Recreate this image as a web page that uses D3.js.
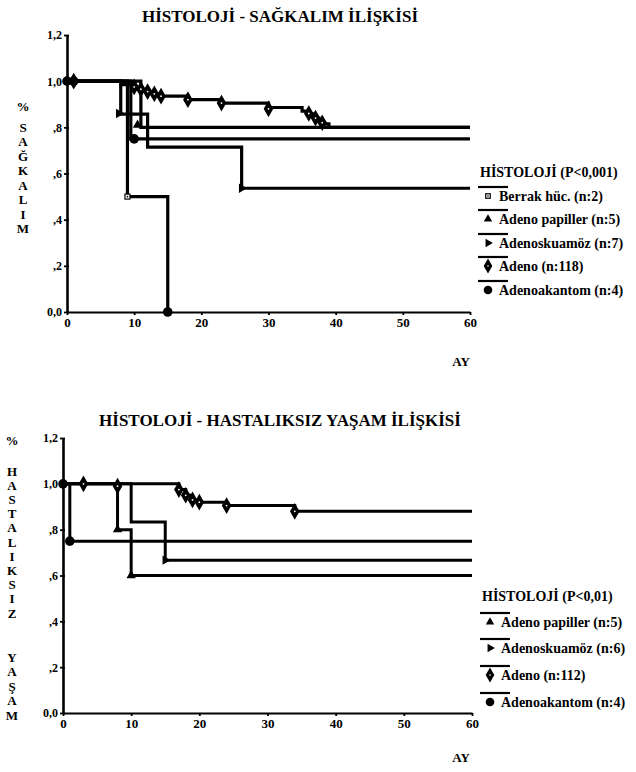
<!DOCTYPE html>
<html>
<head>
<meta charset="utf-8">
<script src="https://cdnjs.cloudflare.com/ajax/libs/d3/7.8.5/d3.min.js"></script>
<style>
body { margin: 0; background: #fff; }
</style>
</head>
<body>
<div id="plot"></div>
<script>
// tick values and labels (same for both charts)
var xTicks = [0, 10, 20, 30, 40, 50, 60];
var yTicks = [0, 0.2, 0.4, 0.6, 0.8, 1.0, 1.2];
var yTickLabels = ["0,0", ",2", ",4", ",6", ",8", "1,0", "1,2"];

// top chart - survival, step times (months) / proportions / censor marks
var sagBerrakT = [0, 9, 15];
var sagBerrakS = [1.0, 0.5, 0.0];
var sagBerrakC = [[9, 0.5], [15, 0, "circle"]];

var sagPapillerT = [0, 11];
var sagPapillerS = [1.0, 0.8];
var sagPapillerC = [[10.5, 0.81]];

var sagSkuamozT = [0, 8, 12, 26];
var sagSkuamozS = [1.0, 0.857, 0.714, 0.536];
var sagSkuamozC = [[7.7, 0.86], [26, 0.536]];

var sagAdenoT = [0, 8, 10, 11, 12, 13, 14, 18, 23, 30, 35, 36, 36.5, 37, 37.5, 38, 39];
var sagAdenoS = [1.0, 0.985, 0.975, 0.965, 0.955, 0.945, 0.935, 0.92, 0.905, 0.886, 0.87, 0.86, 0.85, 0.84, 0.83, 0.815, 0.80];
var sagAdenoC = [[1, 1.0], [10, 0.975], [11, 0.965], [12, 0.955], [13, 0.945], [14, 0.935], [18, 0.92], [23, 0.905], [30, 0.88], [36, 0.86], [37, 0.84], [38, 0.82]];

var sagAkantomT = [0, 9.5];
var sagAkantomS = [1.0, 0.75];
var sagAkantomC = [[0, 1.0], [1, 1.0], [10, 0.75]];

var sagLabels = ["Berrak hüc. (n:2)", "Adeno papiller (n:5)", "Adenoskuamöz (n:7)", "Adeno (n:118)", "Adenoakantom (n:4)"];

// bottom chart - disease free survival
var hasPapillerT = [0, 8, 10];
var hasPapillerS = [1.0, 0.8, 0.6];
var hasPapillerC = [[8, 0.8], [10, 0.6]];

var hasSkuamozT = [0, 10, 15];
var hasSkuamozS = [1.0, 0.833, 0.667];
var hasSkuamozC = [[15, 0.667]];

var hasAdenoT = [0, 17, 18, 19, 20, 24, 34];
var hasAdenoS = [1.0, 0.975, 0.95, 0.93, 0.92, 0.905, 0.88];
var hasAdenoC = [[3, 1.0], [8, 0.99], [17, 0.975], [18, 0.95], [19, 0.93], [20, 0.92], [24, 0.905], [34, 0.88]];

var hasAkantomT = [0, 1];
var hasAkantomS = [1.0, 0.75];
var hasAkantomC = [[0, 1.0], [1, 0.75]];

var hasLabels = ["Adeno papiller (n:5)", "Adenoskuamöz (n:6)", "Adeno (n:112)", "Adenoakantom (n:4)"];

var width = 636, height = 772;

//pick the first installed serif face (compare canvas widths against monospace)
function pickFont(list) {
	var ctx = document.createElement("canvas").getContext("2d");
	var probe = "HİSTOLOJİ Adenoakantom 0123456789";
	ctx.font = "bold 40px monospace";
	var base = ctx.measureText(probe).width;
	for (var i = 0; i < list.length; i++) {
		ctx.font = "bold 40px '" + list[i] + "', monospace";
		if (ctx.measureText(probe).width != base) return "'" + list[i] + "'";
	}
	return "serif";
}
var serif = pickFont(["Liberation Serif", "Times New Roman", "Tinos", "DejaVu Serif", "Noto Serif"]);

var svg = d3.select("#plot")
	.append("svg")
	.attr("width", width)
	.attr("height", height)
	.attr("font-family", serif)
	.attr("font-weight", "bold");

svg.append("rect").attr("width", width).attr("height", height).attr("fill", "#fff");

//bold serif text helper
function label(g, x, y, txt, size, anchor) {
	return g.append("text")
		.attr("x", x).attr("y", y)
		.style("font-family", serif)
		.style("font-weight", "bold")
		.style("font-size", size + "px")
		.attr("text-anchor", anchor || "start")
		.attr("fill", "#000")
		.text(txt);
}

//draw one marker glyph at (x,y)
function drawMark(g, shape, x, y, scale) {
	scale = scale || 1;
	if (shape == "circle") {
		g.append("circle").attr("cx", x).attr("cy", y).attr("r", 4.8 * scale).attr("fill", "#000");
	} else if (shape == "diamond") {
		g.append("path").attr("d", d3.symbol().type(d3.symbolDiamond).size(80 * scale * scale)())
			.attr("transform", "translate(" + x + "," + y + ")").attr("fill", "#000");
		g.append("circle").attr("cx", x).attr("cy", y).attr("r", 0.9 * scale).attr("fill", "#fff");
	} else if (shape == "triangle") {
		g.append("path").attr("d", d3.symbol().type(d3.symbolTriangle).size(38 * scale * scale)())
			.attr("transform", "translate(" + x + "," + y + ")").attr("fill", "#000");
	} else if (shape == "right") {
		g.append("path").attr("d", d3.symbol().type(d3.symbolTriangle).size(38 * scale * scale)())
			.attr("transform", "translate(" + x + "," + y + ") rotate(90)").attr("fill", "#000");
	} else if (shape == "square") {
		g.append("rect").attr("x", x - 2.5 * scale).attr("y", y - 2.5 * scale)
			.attr("width", 5 * scale).attr("height", 5 * scale)
			.attr("fill", "#fff").attr("stroke", "#000").attr("stroke-width", 1.2);
		g.append("circle").attr("cx", x).attr("cy", y).attr("r", 0.9 * scale).attr("fill", "#000");
	}
}

function drawChart(cfg) {
	var xScale = d3.scaleLinear().domain([0, 60]).range(cfg.xRange);
	var yScale = d3.scaleLinear().domain([0, 1.2]).range(cfg.yRange);

	//title
	label(svg, cfg.titleX, cfg.titleY, cfg.title, 17, "middle");

	//x axis
	var xAxis = svg.append("g")
		.attr("transform", "translate(0," + yScale(0) + ")")
		.call(d3.axisBottom(xScale).tickValues(xTicks).tickSize(3).tickSizeOuter(0).tickPadding(3));
	xAxis.select(".domain").attr("stroke-width", 1.8);
	xAxis.selectAll("line").attr("stroke-width", 1.8);
	xAxis.selectAll("text").style("font-family", serif).style("font-weight", "bold").style("font-size", "13px");

	//y axis, ticks cross the line
	var yAxis = svg.append("g")
		.attr("transform", "translate(" + xScale(0) + ",0)")
		.call(d3.axisLeft(yScale).tickValues(yTicks).tickSize(3).tickSizeOuter(0).tickPadding(2)
			.tickFormat(function (d, i) { return yTickLabels[i]; }));
	yAxis.select(".domain").attr("stroke-width", 2.6);
	yAxis.selectAll("line").attr("x1", 2).attr("stroke-width", 1.8);
	yAxis.selectAll("text").style("font-family", serif).style("font-weight", "bold").style("font-size", "12px");

	//step curves
	var line = d3.line()
		.x(function (d) { return xScale(d[0]); })
		.y(function (d) { return yScale(d[1]); })
		.curve(d3.curveStepAfter);

	var marks = svg.append("g");
	cfg.series.forEach(function (s) {
		var pts = s.t.map(function (t, i) { return [t, s.s[i]]; });
		var last = s.s[s.s.length - 1];
		if (last > 0) pts.push([60, last]);
		svg.append("path")
			.attr("d", line(pts))
			.attr("fill", "none")
			.attr("stroke", "#000")
			.attr("stroke-width", cfg.lineWidth)
			.attr("stroke-linejoin", "miter");
		s.c.forEach(function (c) {
			drawMark(marks, c[2] || s.shape, xScale(c[0]), yScale(c[1]), 1);
		});
	});
	marks.raise();

	//vertical y label, one letter per row
	cfg.yLabel.forEach(function (l) {
		label(svg, cfg.yLabelX, l[1] + 4.5, l[0], 13, "middle");
	});

	label(svg, cfg.ayX, cfg.ayY, "AY", 13, "middle");

	//legend
	var lg = svg.append("g");
	label(lg, cfg.legendX, cfg.legendTitleY, cfg.legendTitle, 14);
	cfg.series.forEach(function (s, i) {
		var yy = cfg.legendY[i];
		lg.append("line")
			.attr("x1", cfg.legendX - 2).attr("x2", cfg.legendX + 28)
			.attr("y1", yy - 10).attr("y2", yy - 10)
			.attr("stroke", "#000").attr("stroke-width", 2.2);
		drawMark(lg, s.shape, cfg.legendX + 8, yy - 1, 0.9);
		label(lg, cfg.legendX + 19, yy + 4, s.name, 14);
	});
}

function stackLetters(word, y0, step) {
	return word.split("").map(function (ch, i) { return [ch, y0 + i * step]; });
}

drawChart({
	title: "HİSTOLOJİ - SAĞKALIM İLİŞKİSİ",
	titleX: 280, titleY: 22,
	xRange: [67, 470], yRange: [312, 35],
	lineWidth: 3.2,
	series: [
		{ name: sagLabels[0], t: sagBerrakT, s: sagBerrakS, c: sagBerrakC, shape: "square" },
		{ name: sagLabels[1], t: sagPapillerT, s: sagPapillerS, c: sagPapillerC, shape: "triangle" },
		{ name: sagLabels[2], t: sagSkuamozT, s: sagSkuamozS, c: sagSkuamozC, shape: "right" },
		{ name: sagLabels[3], t: sagAdenoT, s: sagAdenoS, c: sagAdenoC, shape: "diamond" },
		{ name: sagLabels[4], t: sagAkantomT, s: sagAkantomS, c: sagAkantomC, shape: "circle" }
	],
	yLabelX: 23,
	yLabel: [["%", 106]].concat(stackLetters("SAĞKALIM", 127, 14.5)),
	ayX: 461, ayY: 366,
	legendX: 480, legendTitleY: 177,
	legendTitle: "HİSTOLOJİ (P<0,001)",
	legendY: [197, 220, 244, 267, 291]
});

drawChart({
	title: "HİSTOLOJİ - HASTALIKSIZ YAŞAM İLİŞKİSİ",
	titleX: 280, titleY: 426,
	xRange: [63, 472], yRange: [713, 438],
	lineWidth: 3,
	series: [
		{ name: hasLabels[0], t: hasPapillerT, s: hasPapillerS, c: hasPapillerC, shape: "triangle" },
		{ name: hasLabels[1], t: hasSkuamozT, s: hasSkuamozS, c: hasSkuamozC, shape: "right" },
		{ name: hasLabels[2], t: hasAdenoT, s: hasAdenoS, c: hasAdenoC, shape: "diamond" },
		{ name: hasLabels[3], t: hasAkantomT, s: hasAkantomS, c: hasAkantomC, shape: "circle" }
	],
	yLabelX: 12,
	yLabel: [["%", 440]].concat(stackLetters("HASTALIKSIZ", 471, 14.2), stackLetters("YAŞAM", 657, 14.5)),
	ayX: 461, ayY: 762,
	legendX: 482, legendTitleY: 601,
	legendTitle: "HİSTOLOJİ (P<0,01)",
	legendY: [623, 649, 676, 703]
});
</script>
</body>
</html>
